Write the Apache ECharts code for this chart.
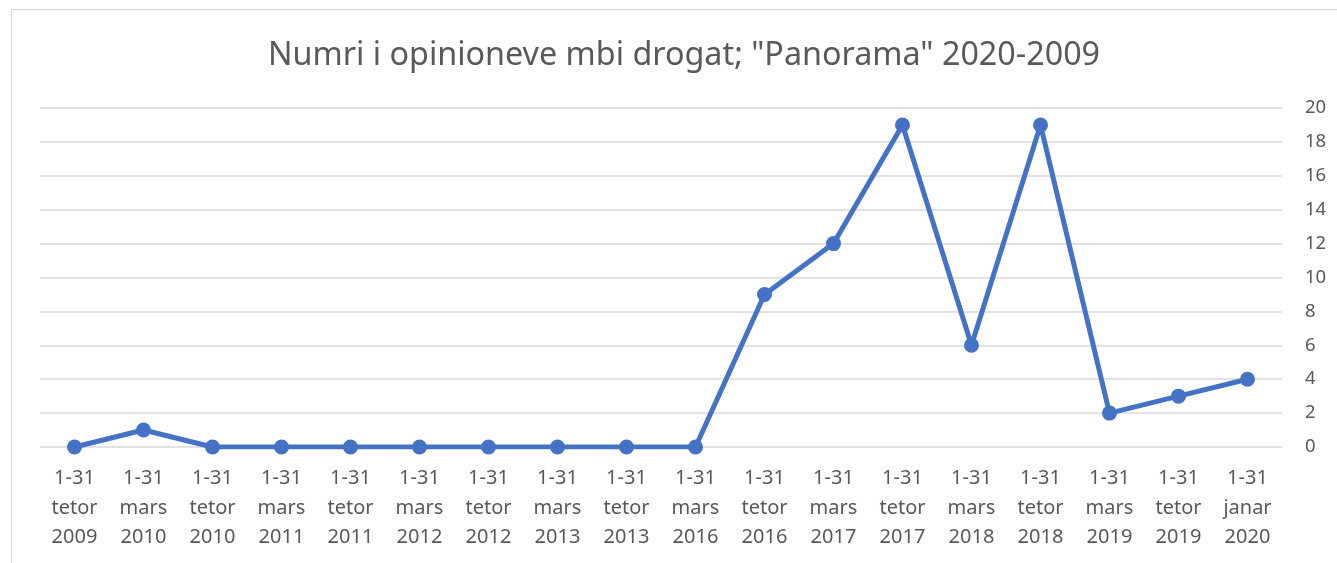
<!DOCTYPE html>
<html>
<head>
    <meta charset="utf-8" />
    <title></title>
    <style>
        html, body { margin: 0; padding: 0; background: #fff; overflow: hidden; }
        #frame { position: absolute; left: 11px; top: 9px; width: 1400px; height: 700px; border: 1px solid #d9d9d9; }
        #linechart { position: absolute; left: 0; top: 0; width: 1337px; height: 563px; }
    </style>
</head>
<body>
    <div id="frame"></div>
    <div id="linechart"></div>
    <script src="https://cdn.jsdelivr.net/npm/echarts@6/dist/echarts.min.js"></script>
    <script>
        var periods = ['1-31\ntetor\n2009', '1-31\nmars\n2010', '1-31\ntetor\n2010', '1-31\nmars\n2011',
            '1-31\ntetor\n2011', '1-31\nmars\n2012', '1-31\ntetor\n2012', '1-31\nmars\n2013',
            '1-31\ntetor\n2013', '1-31\nmars\n2016', '1-31\ntetor\n2016', '1-31\nmars\n2017',
            '1-31\ntetor\n2017', '1-31\nmars\n2018', '1-31\ntetor\n2018', '1-31\nmars\n2019',
            '1-31\ntetor\n2019', '1-31\njanar\n2020'];
        var opinions = [0, 1, 0, 0, 0, 0, 0, 0, 0, 0, 9, 12, 19, 6, 19, 2, 3, 4];

        var textColor = '#595959';
        var font = '"Noto Sans", "Open Sans", sans-serif';

        var option = {
            backgroundColor: 'transparent',
            animation: false,
            title: {
                text: 'Numri i opinioneve mbi drogat; "Panorama" 2020-2009',
                left: 263,
                top: 35,
                textStyle: {
                    color: textColor,
                    fontSize: 32.3,
                    fontWeight: 'normal',
                    fontFamily: font
                }
            },
            grid: {
                left: 40,
                right: 55,
                top: 108,
                bottom: 116
            },
            xAxis: {
                type: 'category',
                boundaryGap: true,
                data: periods,
                axisLine: { show: false },
                axisTick: { show: false },
                axisLabel: {
                    color: textColor,
                    fontSize: 20,
                    lineHeight: 29.5,
                    fontFamily: font,
                    margin: 17,
                    interval: 0
                }
            },
            yAxis: {
                type: 'value',
                position: 'right',
                min: 0,
                max: 20,
                interval: 2,
                axisLine: { show: false },
                axisTick: { show: false },
                axisLabel: {
                    color: textColor,
                    fontSize: 18.5,
                    fontFamily: font,
                    margin: 23
                },
                splitLine: {
                    lineStyle: { color: '#d9d9d9', width: 1.5 }
                }
            },
            series: [{
                name: 'opinione',
                type: 'line',
                data: opinions,
                symbol: 'circle',
                symbolSize: 15,
                lineStyle: { color: '#4472c4', width: 5 },
                itemStyle: { color: '#4472c4' }
            }]
        };

        var lineChart = echarts.init(document.getElementById('linechart'));
        lineChart.setOption(option);
    </script>
</body>
</html>
